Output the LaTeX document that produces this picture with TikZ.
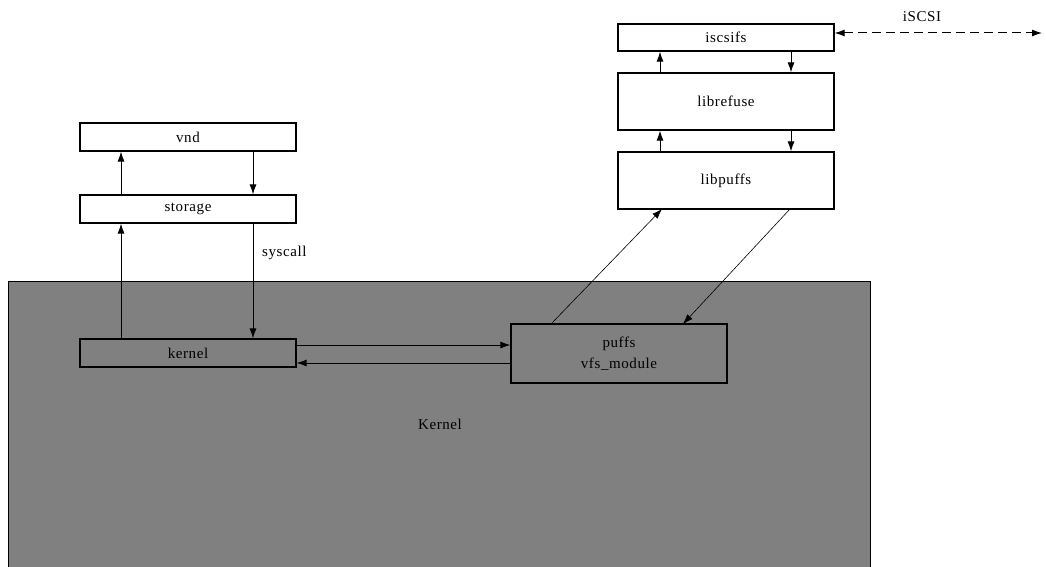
\documentclass[tikz,border=0pt]{standalone}
\usepackage{fontspec}
\setmainfont{Liberation Serif}[LetterSpace=4]
\usetikzlibrary{arrows.meta}
\begin{document}
\begin{tikzpicture}[x=1pt,y=-1pt,
  box/.style={draw=black,line width=1.2pt,fill=white,inner sep=0pt,font=\fontsize{15}{21}\selectfont},
  gbox/.style={box,fill=kgray},
  arr/.style={line width=1pt,-{Latex[length=10pt,width=7pt]}},
  lbl/.style={font=\fontsize{15}{17}\selectfont,inner sep=0pt}]
\definecolor{kgray}{RGB}{128,128,128}
\useasboundingbox (0,0) rectangle (1046,567);
\fill[white] (0,0) rectangle (1046,567);
% Kernel area
\node[gbox,minimum width=862pt,minimum height=290pt,anchor=north west] (K) at (8,281) {};
\node[lbl] (Klbl) at (440,424) {Kernel};
% left column
\node[box,minimum width=216pt,minimum height=28pt] (vnd) at (188,137) {vnd};
\node[box,minimum width=216pt,minimum height=28pt] (sto) at (188,209) {storage};
\node[gbox,minimum width=216pt,minimum height=28pt] (ker) at (188,353) {kernel};
% puffs
\node[gbox,minimum width=216pt,minimum height=59pt,align=center] (puf) at (619,353.5) {puffs\\vfs\_module};
% right column
\node[box,minimum width=216pt,minimum height=27pt] (isc) at (726,37.5) {iscsifs};
\node[box,minimum width=216pt,minimum height=57pt] (ref) at (726,101.5) {librefuse};
\node[box,minimum width=216pt,minimum height=57pt] (lpu) at (726,180.5) {libpuffs};
% vertical arrows left
\draw[arr] (sto.north -| 121,0) -- (vnd.south -| 121,0);
\draw[arr] (vnd.south -| 253,0) -- (sto.north -| 253,0);
\draw[arr] (ker.north -| 121,0) -- (sto.south -| 121,0);
\draw[arr] (sto.south -| 253,0) -- (ker.north -| 253,0);
\node[lbl,anchor=west] (sys) at (262,253) {syscall};
% kernel <-> puffs
\draw[arr] (ker.east |- 0,345) -- (puf.west |- 0,345);
\draw[arr] (puf.west |- 0,363) -- (ker.east |- 0,363);
% puffs <-> libpuffs
\coordinate (p1) at (551,324);
\coordinate (p2) at (662,209);
\coordinate (p3) at (790,209);
\coordinate (p4) at (683,324);
\draw[arr,line width=0.6pt] (p1) -- (p2);
\draw[arr,line width=0.6pt] (p3) -- (p4);
% right column arrows
\draw[arr] (lpu.north -| 660,0) -- (ref.south -| 660,0);
\draw[arr] (ref.south -| 791,0) -- (lpu.north -| 791,0);
\draw[arr] (ref.north -| 660,0) -- (isc.south -| 660,0);
\draw[arr] (isc.south -| 791,0) -- (ref.north -| 791,0);
% iSCSI
\coordinate (iend) at (1042,33);
\draw[line width=1pt,dash pattern=on 9pt off 5pt,{Latex[length=10pt,width=7pt]}-{Latex[length=10pt,width=7pt]}] (isc.east |- 0,33) -- (iend);
\node[lbl] (iscsi) at (922,17) {iSCSI};
\end{tikzpicture}
\end{document}
